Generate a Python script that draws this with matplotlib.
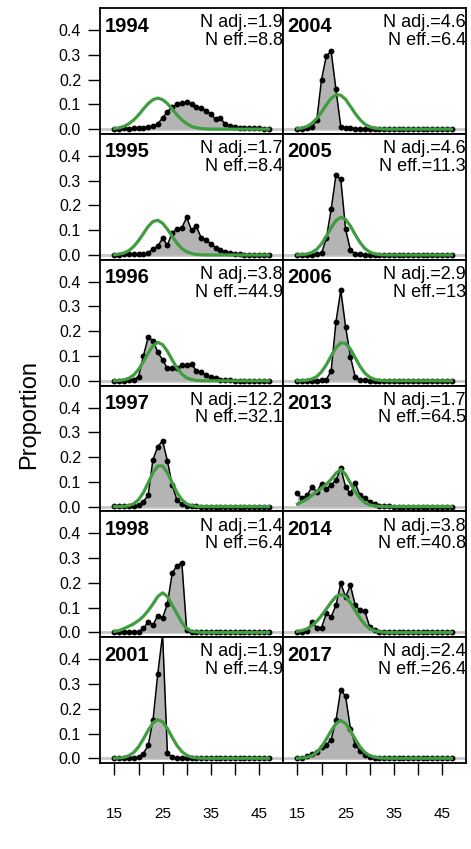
import numpy as np
import matplotlib
matplotlib.use('Agg')
import matplotlib.pyplot as plt

plt.rcParams['font.family'] = ['Liberation Sans', 'DejaVu Sans']

# length bins (cm)
lengths = np.arange(15, 48)

# observed / expected proportions at length, one pair per year
obs_1994 = [0.002, 0.002, 0.003, 0.002, 0.003, 0.004, 0.005, 0.008, 0.012, 0.022,
            0.045, 0.07, 0.09, 0.1, 0.105, 0.108, 0.1, 0.09, 0.085, 0.075,
            0.06, 0.04, 0.045, 0.02, 0.012, 0.008, 0.005, 0.004, 0.006, 0.003,
            0.004, 0.002, 0.002]
exp_1994 = [0.0024, 0.0055, 0.011, 0.022, 0.037, 0.057, 0.081, 0.103, 0.119, 0.125,
            0.119, 0.103, 0.081, 0.057, 0.037, 0.022, 0.011, 0.0055, 0.0024, 0.001,
            0, 0, 0, 0, 0, 0, 0, 0, 0, 0,
            0, 0, 0]

obs_1995 = [0.001, 0.001, 0.002, 0.002, 0.003, 0.003, 0.004, 0.008, 0.025, 0.035,
            0.067, 0.04, 0.09, 0.105, 0.11, 0.152, 0.1, 0.115, 0.07, 0.06,
            0.045, 0.03, 0.02, 0.012, 0.006, 0.004, 0.002, 0.001, 0.001, 0.001,
            0, 0, 0]
exp_1995 = [0.0012, 0.0033, 0.0081, 0.0177, 0.034, 0.058, 0.086, 0.115, 0.135, 0.140,
            0.128, 0.104, 0.075, 0.047, 0.026, 0.013, 0.0057, 0.0022, 0.0008, 0,
            0, 0, 0, 0, 0, 0, 0, 0, 0, 0,
            0, 0, 0]

obs_1996 = [0.001, 0.001, 0.001, 0.002, 0.005, 0.016, 0.10, 0.175, 0.162, 0.115,
            0.085, 0.05, 0.05, 0.052, 0.063, 0.063, 0.068, 0.04, 0.034, 0.023,
            0.016, 0.01, 0.005, 0.003, 0.002, 0.001, 0.001, 0, 0, 0,
            0, 0, 0]
exp_1996 = [0.0004, 0.0013, 0.004, 0.0103, 0.0234, 0.0456, 0.077, 0.112, 0.142, 0.155,
            0.146, 0.119, 0.084, 0.051, 0.027, 0.012, 0.0048, 0.0016, 0.0005, 0,
            0, 0, 0, 0, 0, 0, 0, 0, 0, 0,
            0, 0, 0]

obs_1997 = [0.001, 0.001, 0.001, 0.001, 0.001, 0.005, 0.02, 0.046, 0.19, 0.242,
            0.266, 0.184, 0.087, 0.026, 0.01, 0.003, 0.001, 0.001, 0, 0,
            0, 0, 0, 0, 0, 0, 0, 0, 0, 0,
            0, 0, 0]
exp_1997 = [0.0001, 0.0003, 0.0011, 0.0039, 0.0114, 0.0277, 0.056, 0.096, 0.137, 0.164,
            0.164, 0.137, 0.096, 0.056, 0.0277, 0.0114, 0.0039, 0.0011, 0.0003, 0,
            0, 0, 0, 0, 0, 0, 0, 0, 0, 0,
            0, 0, 0]

obs_1998 = [0.001, 0.001, 0.001, 0.001, 0.002, 0.003, 0.016, 0.043, 0.03, 0.068,
            0.06, 0.115, 0.24, 0.27, 0.28, 0.01, 0.002, 0.001, 0, 0,
            0, 0, 0, 0, 0, 0, 0, 0, 0, 0,
            0, 0, 0]
exp_1998 = [0.004, 0.008, 0.016, 0.025, 0.035, 0.048, 0.065, 0.088, 0.115, 0.145,
            0.16, 0.145, 0.11, 0.075, 0.04, 0.015, 0.005, 0.002, 0, 0,
            0, 0, 0, 0, 0, 0, 0, 0, 0, 0,
            0, 0, 0]

obs_2001 = [0.001, 0.001, 0.001, 0.001, 0.002, 0.004, 0.019, 0.052, 0.153, 0.342,
            0.5, 0.02, 0.004, 0.002, 0.001, 0.001, 0, 0, 0, 0,
            0, 0, 0, 0, 0, 0, 0, 0, 0, 0,
            0, 0, 0]
exp_2001 = [0.0004, 0.0013, 0.004, 0.0103, 0.0235, 0.046, 0.0775, 0.113, 0.143, 0.156,
            0.147, 0.12, 0.084, 0.051, 0.027, 0.012, 0.0048, 0.0016, 0.0005, 0,
            0, 0, 0, 0, 0, 0, 0, 0, 0, 0,
            0, 0, 0]

obs_2004 = [0.001, 0.002, 0.003, 0.008, 0.035, 0.2, 0.296, 0.314, 0.16, 0.01,
            0.005, 0.003, 0.002, 0.002, 0.001, 0.001, 0.001, 0.001, 0.001, 0.001,
            0, 0, 0, 0, 0, 0, 0, 0, 0, 0,
            0, 0, 0]
exp_2004 = [0.0018, 0.0048, 0.0112, 0.023, 0.043, 0.069, 0.098, 0.124, 0.139, 0.137,
            0.120, 0.092, 0.063, 0.038, 0.020, 0.0096, 0.004, 0.0015, 0.0005, 0,
            0, 0, 0, 0, 0, 0, 0, 0, 0, 0,
            0, 0, 0]

obs_2005 = [0.001, 0.001, 0.001, 0.001, 0.002, 0.007, 0.067, 0.184, 0.323, 0.305,
            0.104, 0.02, 0.005, 0.002, 0.001, 0.001, 0, 0, 0, 0,
            0, 0, 0, 0, 0, 0, 0, 0, 0, 0,
            0, 0, 0]
exp_2005 = [0.0004, 0.0013, 0.0039, 0.0101, 0.0229, 0.0447, 0.0755, 0.110, 0.139, 0.152,
            0.143, 0.117, 0.082, 0.050, 0.026, 0.012, 0.0047, 0.0016, 0.0005, 0,
            0, 0, 0, 0, 0, 0, 0, 0, 0, 0,
            0, 0, 0]

obs_2006 = [0.001, 0.001, 0.001, 0.001, 0.001, 0.002, 0.005, 0.04, 0.238, 0.366,
            0.218, 0.097, 0.016, 0.005, 0.002, 0.001, 0.001, 0, 0, 0,
            0, 0, 0, 0, 0, 0, 0, 0, 0, 0,
            0, 0, 0]
exp_2006 = [0.0002, 0.0007, 0.0025, 0.007, 0.017, 0.036, 0.065, 0.100, 0.134, 0.153,
            0.151, 0.128, 0.093, 0.058, 0.031, 0.0144, 0.0057, 0.002, 0.0006, 0,
            0, 0, 0, 0, 0, 0, 0, 0, 0, 0,
            0, 0, 0]

obs_2013 = [0.053, 0.033, 0.045, 0.08, 0.06, 0.093, 0.073, 0.087, 0.107, 0.154,
            0.08, 0.053, 0.094, 0.046, 0.033, 0.02, 0.01, 0.003, 0.001, 0.001,
            0, 0, 0, 0, 0, 0, 0, 0, 0, 0,
            0, 0, 0]
exp_2013 = [0.01, 0.02, 0.03, 0.045, 0.06, 0.075, 0.09, 0.11, 0.135, 0.15,
            0.13, 0.095, 0.06, 0.033, 0.016, 0.007, 0.003, 0.001, 0, 0,
            0, 0, 0, 0, 0, 0, 0, 0, 0, 0,
            0, 0, 0]

obs_2014 = [0.001, 0.002, 0.005, 0.043, 0.019, 0.019, 0.077, 0.063, 0.11, 0.198,
            0.144, 0.19, 0.11, 0.09, 0.086, 0.023, 0.01, 0.003, 0.001, 0,
            0, 0, 0, 0, 0, 0, 0, 0, 0, 0,
            0, 0, 0]
exp_2014 = [0.004, 0.008, 0.015, 0.027, 0.045, 0.068, 0.095, 0.122, 0.145, 0.153,
            0.145, 0.12, 0.088, 0.057, 0.032, 0.016, 0.007, 0.003, 0.001, 0,
            0, 0, 0, 0, 0, 0, 0, 0, 0, 0,
            0, 0, 0]

obs_2017 = [0.001, 0.003, 0.008, 0.019, 0.026, 0.046, 0.055, 0.075, 0.153, 0.277,
            0.25, 0.12, 0.055, 0.03, 0.015, 0.005, 0.002, 0.001, 0, 0,
            0, 0, 0, 0, 0, 0, 0, 0, 0, 0,
            0, 0, 0]
exp_2017 = [0.0005, 0.0015, 0.0045, 0.011, 0.024, 0.046, 0.077, 0.111, 0.14, 0.153,
            0.14, 0.111, 0.077, 0.046, 0.024, 0.011, 0.0045, 0.0015, 0.0005, 0,
            0, 0, 0, 0, 0, 0, 0, 0, 0, 0,
            0, 0, 0]

# panel order: left column top to bottom, then right column
years = ['1994', '1995', '1996', '1997', '1998', '2001',
         '2004', '2005', '2006', '2013', '2014', '2017']
n_adj = ['1.9', '1.7', '3.8', '12.2', '1.4', '1.9',
         '4.6', '4.6', '2.9', '1.7', '3.8', '2.4']
n_eff = ['8.8', '8.4', '44.9', '32.1', '6.4', '4.9',
         '6.4', '11.3', '13', '64.5', '40.8', '26.4']
observed = [obs_1994, obs_1995, obs_1996, obs_1997, obs_1998, obs_2001,
            obs_2004, obs_2005, obs_2006, obs_2013, obs_2014, obs_2017]
expected = [exp_1994, exp_1995, exp_1996, exp_1997, exp_1998, exp_2001,
            exp_2004, exp_2005, exp_2006, exp_2013, exp_2014, exp_2017]

green = '#3f9d3f'

fig, axes = plt.subplots(6, 2, figsize=(4.71, 8.49), dpi=100, sharex=True, sharey=True)
fig.subplots_adjust(left=100/471, right=466/471, top=1 - 8/849, bottom=1 - 763/849,
                    hspace=0, wspace=0)

for i in range(12):
    col = i // 6
    row = i % 6
    ax = axes[row, col]

    ax.axhline(0, color='#c8c8c8', lw=2, zorder=0)
    ax.fill_between(lengths, observed[i], 0, color='#b4b4b4', lw=0, zorder=1)
    ax.plot(lengths, observed[i], color='black', lw=1.1, marker='o', ms=3.2, zorder=3)
    ax.plot(lengths, expected[i], color=green, lw=2.3, zorder=4, solid_joinstyle='round')

    ax.set_xlim(12, 50)
    ax.set_ylim(-0.019, 0.489)
    for sp in ax.spines.values():
        sp.set_linewidth(1.3)

    ax.text(0.025, 0.812, years[i], transform=ax.transAxes, fontsize=14.5,
            fontweight='bold', ha='left', va='baseline')
    ax.text(0.998, 0.847, 'N adj.=' + n_adj[i], transform=ax.transAxes, fontsize=13,
            ha='right', va='baseline')
    ax.text(0.998, 0.706, 'N eff.=' + n_eff[i], transform=ax.transAxes, fontsize=13,
            ha='right', va='baseline')

    ax.set_yticks([0.0, 0.1, 0.2, 0.3, 0.4])
    ax.set_yticklabels(['0.0', '0.1', '0.2', '0.3', '0.4'])
    ax.set_xticks([15, 20, 25, 30, 35, 40, 45])
    ax.set_xticklabels(['15', '', '25', '', '35', '', '45'])
    ax.tick_params(axis='y', length=8.6, width=1, pad=5, labelsize=11.5,
                   left=(col == 0), labelleft=(col == 0))
    ax.tick_params(axis='x', length=8.6, width=1, pad=23, labelsize=11,
                   bottom=(row == 5), labelbottom=(row == 5))

fig.text(29/471, 1 - 415/849, 'Proportion', rotation=90, fontsize=17,
         ha='center', va='center')

fig.savefig('out.png', dpi=100)
